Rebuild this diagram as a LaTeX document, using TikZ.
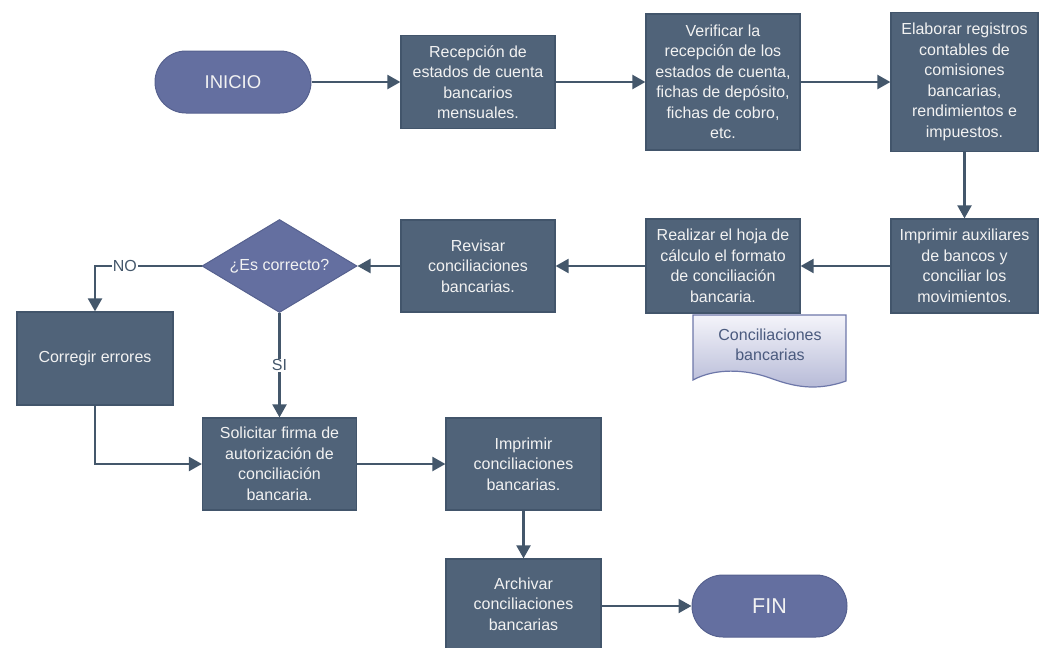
\documentclass[tikz,border=0pt]{standalone}
\usepackage{fontspec}
\setmainfont{Liberation Sans}
\usetikzlibrary{shapes.geometric,arrows.meta}
\definecolor{boxfill}{HTML}{506379}
\definecolor{boxdraw}{HTML}{42556B}
\definecolor{termfill}{HTML}{646FA0}
\definecolor{termdraw}{HTML}{56618F}
\definecolor{linec}{HTML}{44576B}
\definecolor{doctop}{HTML}{F4F4FA}
\definecolor{docbot}{HTML}{B3B7D5}
\definecolor{docdraw}{HTML}{6D77A9}
\definecolor{doctext}{HTML}{4A5A7E}
\definecolor{boxtext}{HTML}{F2F2F2}
\begin{document}
\begin{tikzpicture}[x=1pt,y=-1pt,
  procbox/.style={draw=boxdraw, line width=1.2pt, fill=boxfill, text=boxtext,
    font=\fontsize{16}{20.5}\selectfont, align=center, inner sep=0pt},
  term/.style={draw=termdraw, line width=1pt, fill=termfill, text=boxtext,
    rounded corners=31pt, minimum width=156pt, minimum height=62pt,
    font=\fontsize{18.5}{22}\selectfont, inner sep=0pt},
  decision/.style={diamond, draw=termdraw, line width=1pt, fill=termfill, text=boxtext,
    minimum width=155pt, minimum height=93pt, inner sep=0pt, aspect=1.67,
    font=\fontsize{16}{20}\selectfont},
  conn/.style={draw=linec, line width=2.2pt, -{Triangle[length=13pt,width=14pt]}},
  lbl/.style={fill=white, text=linec, inner sep=1pt, font=\fontsize{16}{20}\selectfont}]
\useasboundingbox (0,0) rectangle (1039,648);

\node[term] (inicio) at (233,82) {INICIO};
\node[procbox, minimum width=154pt, minimum height=93pt] (b1) at (478,82)
  {Recepción de\\estados de cuenta\\bancarios\\mensuales.};
\node[procbox, minimum width=154pt, minimum height=136pt] (b2) at (723,82)
  {Verificar la\\recepción de los\\estados de cuenta,\\fichas de depósito,\\fichas de cobro,\\etc.};
\node[procbox, minimum width=147pt, minimum height=139pt] (b3) at (964.5,82)
  {Elaborar registros\\contables de\\comisiones\\bancarias,\\rendimientos e\\impuestos.};
\node[procbox, minimum width=147pt, minimum height=94pt] (b4) at (964.5,266)
  {Imprimir auxiliares\\de bancos y\\conciliar los\\movimientos.};
\node[procbox, minimum width=154pt, minimum height=94pt] (b5) at (723,266)
  {Realizar el hoja de\\cálculo el formato\\de conciliación\\bancaria.};
\node[procbox, minimum width=154pt, minimum height=92pt] (b6) at (478,266)
  {Revisar\\conciliaciones\\bancarias.};
\node[decision] (dec) at (279.5,266) {¿Es correcto?};
\node[procbox, minimum width=156pt, minimum height=93pt] (b7) at (95,358.5)
  {Corregir errores};
\node[procbox, minimum width=154pt, minimum height=92pt] (b8) at (279.5,464)
  {Solicitar firma de\\autorización de\\conciliación\\bancaria.};
\node[procbox, minimum width=155pt, minimum height=92pt] (b9) at (523.5,464)
  {Imprimir\\conciliaciones\\bancarias.};
\node[procbox, minimum width=155pt, minimum height=90pt] (b10) at (523.5,604)
  {Archivar\\conciliaciones\\bancarias};
\node[term, minimum width=155pt, font=\fontsize{21.5}{24}\selectfont] (fin) at (769.5,606) {FIN};

% document shape
\draw[docdraw, line width=1.2pt, top color=doctop, bottom color=docbot]
  (693,315) -- (846,315) -- (846,381)
  .. controls (815,392) and (792,386) .. (770,378)
  .. controls (745,369) and (715,368) .. (693,380) -- cycle;
\node[text=doctext, align=center, font=\fontsize{16}{20.5}\selectfont] (doc) at (770,345)
  {Conciliaciones\\bancarias};

% connectors
\draw[conn] (inicio) -- (b1);
\draw[conn] (b1) -- (b2);
\draw[conn] (b2) -- (b3);
\draw[conn] (b3) -- (b4);
\draw[conn] (b4) -- (b5);
\draw[conn] (b5) -- (b6);
\draw[conn] (b6) -- (dec);
\draw[conn] (dec.west) -| node[lbl, pos=0.36] {NO} (b7.north);
\draw[conn] (dec.south) -- node[lbl] {SI} (b8.north);
\draw[conn] (b7.south) |- (b8.west);
\draw[conn] (b8) -- (b9);
\draw[conn] (b9) -- (b10);
\draw[conn] (b10.east |- fin) -- (fin);
\end{tikzpicture}
\end{document}
